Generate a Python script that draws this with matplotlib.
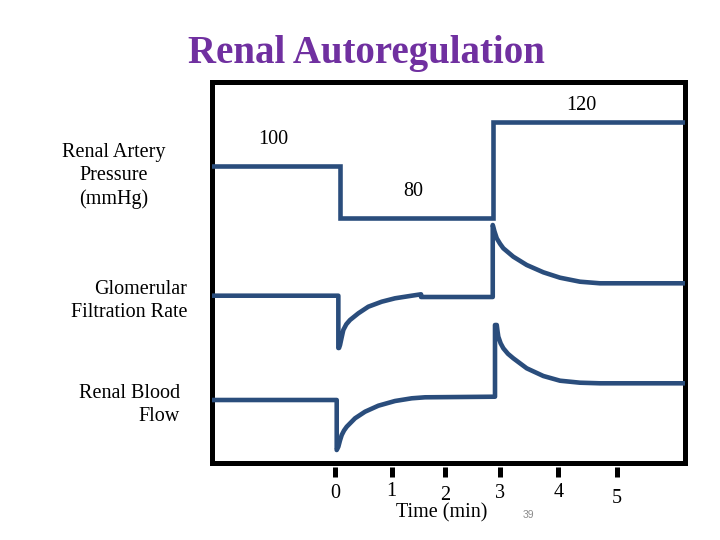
import matplotlib
matplotlib.use("Agg")
import matplotlib.pyplot as plt

# ---------------- data (time in minutes, trace heights in arbitrary units) ----------------
tick_labels = ["0", "1", "2", "3", "4", "5"]
tick_pos = [0.0, 1.006, 1.953, 2.929, 3.964, 5.0]

pressure_labels = ["100", "80", "120"]
pressure_t = [-2.3, 0.089, 0.089, 2.805, 2.805, 6.3]
pressure_y = [297.6, 297.6, 245.6, 245.6, 341.0, 341.0]

gfr_t = [-2.3, 0.059, 0.059, 0.071, 0.089, 0.118, 0.147, 0.200, 0.266, 0.414,
         0.591, 0.829, 1.065, 1.362, 1.527, 1.527, 2.800, 2.800, 2.830, 2.871,
         2.930, 2.988, 3.165, 3.403, 3.698, 3.994, 4.349, 4.704, 6.3]
gfr_y = [167.6, 167.6, 115.3, 115.3, 118.3, 126.0, 133.3, 139.0, 143.3, 150.0,
         156.6, 161.6, 165.0, 167.6, 169.0, 166.3, 166.3, 238.3, 232.0, 225.0,
         219.5, 215.0, 206.6, 198.3, 191.0, 185.6, 181.6, 180.0, 180.0]

rbf_t = [-2.3, 0.030, 0.030, 0.059, 0.089, 0.119, 0.160, 0.208, 0.355, 0.533,
         0.769, 1.065, 1.362, 1.598, 2.840, 2.840, 2.871, 2.885, 2.899, 2.940,
         2.988, 3.070, 3.165, 3.403, 3.698, 3.994, 4.349, 4.704, 6.3]
rbf_y = [63.3, 63.3, 13.3, 16.6, 23.0, 28.3, 32.8, 36.6, 45.0, 51.6,
         57.6, 62.3, 65.0, 66.0, 66.6, 138.3, 138.3, 132.0, 126.6, 120.0,
         115.0, 109.5, 105.0, 95.0, 87.3, 82.6, 80.6, 80.0, 80.0]

# ---------------- figure ----------------
W, H = 720, 540
fig = plt.figure(figsize=(7.2, 5.4), dpi=100)
fig.patch.set_facecolor("white")

SERIF = ["Liberation Serif", "DejaVu Serif"]
LINE = "#2a4d7c"
FS = 14.5

def fx(px):
    return px / W

def fy(py):
    return 1 - py / H

# axes box: left 212, right 685, top 81.7, bottom 463.3 (pixels)
ax = fig.add_axes([fx(212), fy(463.3), fx(685) - fx(212), (463.3 - 81.7) / H])
ax.set_xlim(-2.184, 6.213)
ax.set_ylim(0, 381.6)
for s in ax.spines.values():
    s.set_linewidth(3.6)
    s.set_color("black")
ax.set_xticks([])
ax.set_yticks([])

ax.plot(pressure_t, pressure_y, color=LINE, lw=3.3,
        solid_joinstyle="miter", solid_capstyle="butt", zorder=3)
ax.plot(gfr_t, gfr_y, color=LINE, lw=3.3,
        solid_joinstyle="round", solid_capstyle="round", zorder=3)
ax.plot(rbf_t, rbf_y, color=LINE, lw=3.3,
        solid_joinstyle="round", solid_capstyle="round", zorder=3)

# pressure level annotations
ann_pos = [(-1.100, 324.3), (1.397, 271.6), (4.367, 358.3)]
for lab, (x, y) in zip(pressure_labels, ann_pos):
    ax.text(x, y, lab, ha="center", va="center", fontsize=FS,
            family=SERIF, color="black")

# detached tick marks below the box
ax.vlines(tick_pos, -3.4, -14.0, colors="black", lw=3.6, clip_on=False)
lab_dy = [-30.0, -28.5, -32.0, -30.0, -29.5, -35.0]
for x, lab, dy in zip(tick_pos, tick_labels, lab_dy):
    ax.text(x, dy, lab, ha="center", va="center", fontsize=FS,
            family=SERIF, color="black", clip_on=False)

# title and labels
fig.text(fx(366), fy(54), "Renal Autoregulation", ha="center", va="center",
         fontsize=28, fontweight="bold", color="#7030A0", family=SERIF)

fig.text(fx(114), fy(176), "Renal Artery\nPressure\n(mmHg)", ha="center",
         va="center", multialignment="center", fontsize=FS, family=SERIF,
         linespacing=1.32)
fig.text(fx(187), fy(301), "Glomerular\nFiltration Rate", ha="right",
         va="center", multialignment="right", fontsize=FS, family=SERIF,
         linespacing=1.32)
fig.text(fx(180), fy(405), "Renal Blood\nFlow", ha="right",
         va="center", multialignment="right", fontsize=FS, family=SERIF,
         linespacing=1.32)

fig.text(fx(441.7), fy(513), "Time (min)", ha="center", va="center",
         fontsize=FS, family=SERIF)
fig.text(fx(528), fy(515), "39", ha="center", va="center", fontsize=7.5,
         color="#8c8c8c", family=["Liberation Sans", "DejaVu Sans"])

fig.savefig("out.png", dpi=100)
